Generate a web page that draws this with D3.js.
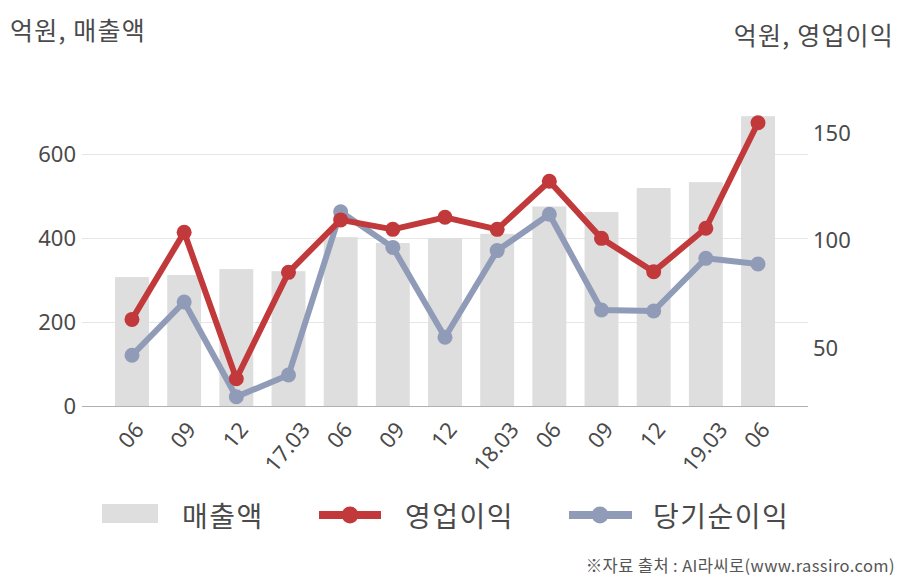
<!DOCTYPE html>
<html>
<head>
<meta charset="utf-8">
<script src="https://cdn.jsdelivr.net/npm/d3@7"></script>
<style>
  html, body { margin: 0; padding: 0; background: #fff; }
  svg { display: block; }
  text { font-family: "Noto Sans CJK KR", "Noto Sans", sans-serif; }
  .num { font-family: "Noto Sans", "Open Sans", sans-serif; }
</style>
</head>
<body>
<svg id="chart" width="908" height="580"></svg>
<script>
// ---- data ----
const categories = ["06","09","12","17.03","06","09","12","18.03","06","09","12","19.03","06"];
const sales = [307, 312, 326, 321, 402, 388, 400, 410, 475, 462, 519, 533, 690];          // 매출액 (left axis)
const operatingProfit = [63.5, 104, 35.9, 85.4, 109.8, 105.4, 111, 105.4, 127.8, 101.2, 85.7, 105.9, 155]; // 영업이익 (right)
const netProfit = [46.8, 71.6, 27.5, 37.6, 113.6, 97, 55.2, 95.5, 112.4, 67.9, 67.4, 91.9, 89.3];          // 당기순이익 (right)
const leftTicks = [0, 200, 400, 600];
const rightTicks = [50, 100, 150];
const legendLabels = ["매출액", "영업이익", "당기순이익"];

// ---- styles ----
const barColor = "#dedede";
const redColor = "#c1393b";
const blueColor = "#909cb7";
const textColor = "#4a4a4a";

const svg = d3.select("#chart");

const plotLeft = 82, plotRight = 808, plotBottom = 406, plotTop = 112;

const x = d3.scaleBand()
  .domain(d3.range(categories.length))
  .range([105.9, 784.1])
  .paddingInner(0.35)
  .paddingOuter(0.175);

const yL = d3.scaleLinear().domain([0, 700]).range([plotBottom, plotTop]);
const yR = d3.scaleLinear().domain([23.2, 160]).range([plotBottom, plotTop]);

// gridlines + left axis
const leftAxis = svg.append("g")
  .attr("transform", `translate(${plotLeft},0)`)
  .call(d3.axisLeft(yL).tickValues(leftTicks).tickSize(-(plotRight - plotLeft)).tickPadding(6));
leftAxis.select(".domain").remove();
leftAxis.selectAll(".tick line").attr("stroke", "#e6e6e6");
leftAxis.selectAll(".tick text")
  .attr("class", "num")
  .attr("fill", textColor)
  .attr("font-size", 22);

// right axis
const rightAxis = svg.append("g")
  .attr("transform", `translate(${plotRight},0)`)
  .call(d3.axisRight(yR).tickValues(rightTicks).tickSize(0).tickPadding(5));
rightAxis.select(".domain").remove();
rightAxis.selectAll(".tick text")
  .attr("class", "num")
  .attr("fill", textColor)
  .attr("font-size", 22);

// bars
svg.append("g").selectAll("rect")
  .data(sales)
  .join("rect")
  .attr("x", (d, i) => x(i))
  .attr("width", x.bandwidth())
  .attr("y", d => yL(d))
  .attr("height", d => yL(0) - yL(d))
  .attr("fill", barColor);

// baseline
svg.append("line")
  .attr("x1", plotLeft).attr("x2", plotRight)
  .attr("y1", plotBottom + 0.5).attr("y2", plotBottom + 0.5)
  .attr("stroke", "#b0b0b0").attr("stroke-width", 1.2);

// x labels (rotated, bounding box centered under the bar)
const xAxis = svg.append("g");
categories.forEach((c, i) => {
  const g = xAxis.append("g");
  g.append("text")
    .attr("class", "num")
    .attr("text-anchor", "middle")
    .attr("dominant-baseline", "central")
    .attr("transform", "rotate(-50)")
    .attr("font-size", 22)
    .attr("fill", textColor)
    .text(c);
  const bb = g.node().getBBox();
  const cx = x(i) + x.bandwidth() / 2 - 2;
  g.attr("transform", `translate(${cx - (bb.x + bb.width / 2)},${415 - bb.y})`);
});

// lines
function drawSeries(values, color) {
  const line = d3.line()
    .x((d, i) => x(i) + x.bandwidth() / 2)
    .y(d => yR(d));
  const g = svg.append("g");
  g.append("path")
    .datum(values)
    .attr("d", line)
    .attr("fill", "none")
    .attr("stroke", color)
    .attr("stroke-width", 6)
    .attr("stroke-linejoin", "round");
  g.selectAll("circle")
    .data(values)
    .join("circle")
    .attr("cx", (d, i) => x(i) + x.bandwidth() / 2)
    .attr("cy", d => yR(d))
    .attr("r", 7.5)
    .attr("fill", color);
}
drawSeries(netProfit, blueColor);
drawSeries(operatingProfit, redColor);

// titles
svg.append("text")
  .attr("x", 10).attr("y", 40)
  .attr("font-size", 25).attr("letter-spacing", 1.2).attr("fill", textColor)
  .text("억원, 매출액");
svg.append("text")
  .attr("x", 894).attr("y", 45)
  .attr("text-anchor", "end")
  .attr("font-size", 25).attr("letter-spacing", 1.2).attr("fill", textColor)
  .text("억원, 영업이익");

// legend
const legY = 515;
const leg = svg.append("g");
leg.append("rect").attr("x", 102).attr("y", 504).attr("width", 56).attr("height", 19).attr("fill", barColor);
leg.append("text").attr("x", 182).attr("y", legY).attr("dominant-baseline", "central")
  .attr("font-size", 28).attr("letter-spacing", 1.5).attr("fill", textColor).text(legendLabels[0]);

leg.append("line").attr("x1", 319).attr("x2", 381).attr("y1", legY).attr("y2", legY)
  .attr("stroke", redColor).attr("stroke-width", 8);
leg.append("circle").attr("cx", 350).attr("cy", legY).attr("r", 8.5).attr("fill", redColor);
leg.append("text").attr("x", 405).attr("y", legY).attr("dominant-baseline", "central")
  .attr("font-size", 28).attr("letter-spacing", 1.5).attr("fill", textColor).text(legendLabels[1]);

leg.append("line").attr("x1", 569).attr("x2", 632).attr("y1", legY).attr("y2", legY)
  .attr("stroke", blueColor).attr("stroke-width", 8);
leg.append("circle").attr("cx", 600).attr("cy", legY).attr("r", 8.5).attr("fill", blueColor);
leg.append("text").attr("x", 653).attr("y", legY).attr("dominant-baseline", "central")
  .attr("font-size", 28).attr("letter-spacing", 1.5).attr("fill", textColor).text(legendLabels[2]);

// source
svg.append("text")
  .attr("x", 895).attr("y", 572)
  .attr("text-anchor", "end")
  .attr("font-size", 16.5).attr("letter-spacing", 0.4).attr("fill", "#555")
  .text("※자료 출처 : AI라씨로(www.rassiro.com)");
</script>
</body>
</html>
